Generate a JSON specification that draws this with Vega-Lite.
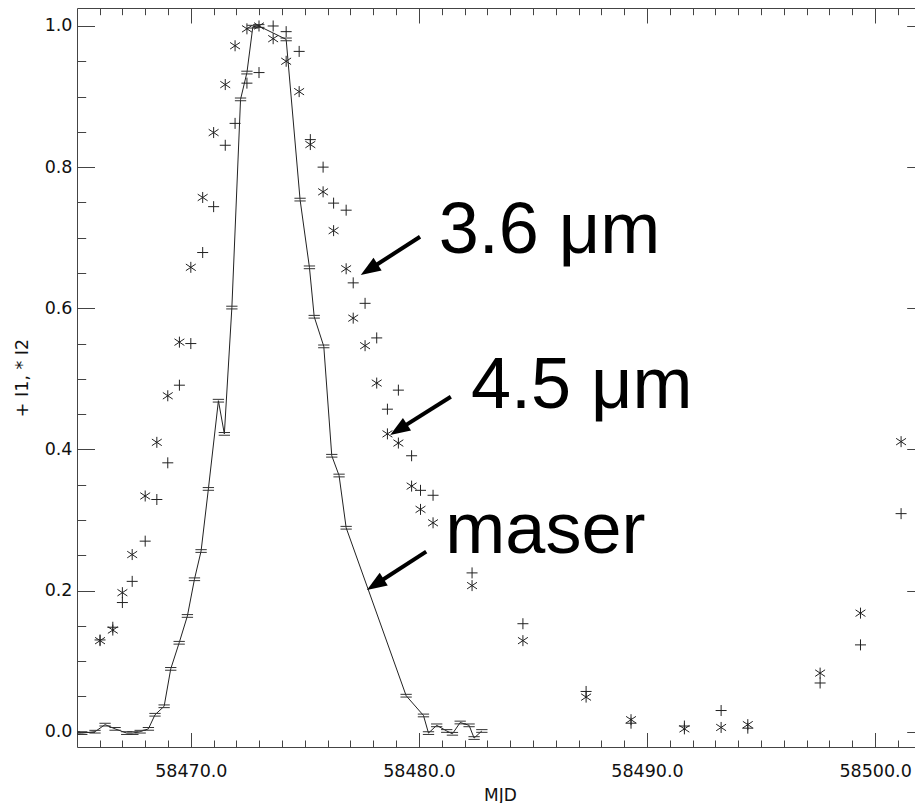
{
  "$schema": "https://vega.github.io/schema/vega-lite/v6.json",
  "width": 838,
  "height": 739,
  "autosize": {"type": "none"},
  "padding": {"left": 77, "top": 8, "right": 0, "bottom": 56},
  "background": "white",
  "config": {"view": {"stroke": null}, "font": "DejaVu Sans"},
  "datasets": {
    "irac": [
      {"mjd": 58466.02, "i1": 0.130, "i2": 0.129},
      {"mjd": 58466.58, "i1": 0.148, "i2": 0.144},
      {"mjd": 58467.00, "i1": 0.183, "i2": 0.197},
      {"mjd": 58467.43, "i1": 0.213, "i2": 0.251},
      {"mjd": 58468.00, "i1": 0.270, "i2": 0.334},
      {"mjd": 58468.51, "i1": 0.329, "i2": 0.410},
      {"mjd": 58468.99, "i1": 0.381, "i2": 0.476},
      {"mjd": 58469.50, "i1": 0.491, "i2": 0.552},
      {"mjd": 58470.00, "i1": 0.550, "i2": 0.658},
      {"mjd": 58470.52, "i1": 0.679, "i2": 0.757},
      {"mjd": 58471.00, "i1": 0.744, "i2": 0.849},
      {"mjd": 58471.51, "i1": 0.831, "i2": 0.917},
      {"mjd": 58471.94, "i1": 0.862, "i2": 0.972},
      {"mjd": 58472.46, "i1": 0.919, "i2": 0.996},
      {"mjd": 58472.99, "i1": 0.934, "i2": 1.000},
      {"mjd": 58473.61, "i1": 1.000, "i2": 0.982},
      {"mjd": 58474.18, "i1": 0.992, "i2": 0.950},
      {"mjd": 58474.75, "i1": 0.964, "i2": 0.907},
      {"mjd": 58475.24, "i1": 0.839, "i2": 0.832},
      {"mjd": 58475.80, "i1": 0.800, "i2": 0.765},
      {"mjd": 58476.26, "i1": 0.749, "i2": 0.710},
      {"mjd": 58476.81, "i1": 0.739, "i2": 0.656},
      {"mjd": 58477.12, "i1": 0.636, "i2": 0.586},
      {"mjd": 58477.64, "i1": 0.607, "i2": 0.547},
      {"mjd": 58478.15, "i1": 0.558, "i2": 0.494},
      {"mjd": 58478.62, "i1": 0.457, "i2": 0.422},
      {"mjd": 58479.10, "i1": 0.484, "i2": 0.409},
      {"mjd": 58479.68, "i1": 0.391, "i2": 0.348},
      {"mjd": 58480.07, "i1": 0.342, "i2": 0.315},
      {"mjd": 58480.62, "i1": 0.335, "i2": 0.296},
      {"mjd": 58482.33, "i1": 0.225, "i2": 0.207},
      {"mjd": 58484.56, "i1": 0.153, "i2": 0.129},
      {"mjd": 58487.33, "i1": 0.057, "i2": 0.049},
      {"mjd": 58489.30, "i1": 0.012, "i2": 0.017},
      {"mjd": 58491.64, "i1": 0.008, "i2": 0.004},
      {"mjd": 58493.25, "i1": 0.030, "i2": 0.006},
      {"mjd": 58494.42, "i1": 0.005, "i2": 0.010},
      {"mjd": 58497.59, "i1": 0.069, "i2": 0.083},
      {"mjd": 58499.36, "i1": 0.123, "i2": 0.168},
      {"mjd": 58501.14, "i1": 0.309, "i2": 0.411}
    ],
    "maser": [
      {"mjd": 58464.90, "flux": -0.002},
      {"mjd": 58465.22, "flux": -0.002},
      {"mjd": 58465.80, "flux": 0.000},
      {"mjd": 58466.24, "flux": 0.010},
      {"mjd": 58466.68, "flux": 0.004},
      {"mjd": 58467.19, "flux": -0.002},
      {"mjd": 58467.46, "flux": -0.002},
      {"mjd": 58467.78, "flux": 0.000},
      {"mjd": 58468.14, "flux": 0.004},
      {"mjd": 58468.43, "flux": 0.024},
      {"mjd": 58468.83, "flux": 0.036},
      {"mjd": 58469.12, "flux": 0.089},
      {"mjd": 58469.49, "flux": 0.126},
      {"mjd": 58469.85, "flux": 0.164},
      {"mjd": 58470.16, "flux": 0.216},
      {"mjd": 58470.45, "flux": 0.256},
      {"mjd": 58470.77, "flux": 0.344},
      {"mjd": 58471.21, "flux": 0.469},
      {"mjd": 58471.47, "flux": 0.422},
      {"mjd": 58471.80, "flux": 0.601},
      {"mjd": 58472.18, "flux": 0.896},
      {"mjd": 58472.46, "flux": 0.934},
      {"mjd": 58472.72, "flux": 0.999},
      {"mjd": 58472.98, "flux": 1.000},
      {"mjd": 58474.18, "flux": 0.981},
      {"mjd": 58474.79, "flux": 0.754},
      {"mjd": 58475.20, "flux": 0.658},
      {"mjd": 58475.41, "flux": 0.588},
      {"mjd": 58475.83, "flux": 0.546},
      {"mjd": 58476.18, "flux": 0.391},
      {"mjd": 58476.50, "flux": 0.363},
      {"mjd": 58476.81, "flux": 0.289},
      {"mjd": 58479.44, "flux": 0.051},
      {"mjd": 58480.20, "flux": 0.023},
      {"mjd": 58480.42, "flux": -0.002},
      {"mjd": 58480.78, "flux": 0.009},
      {"mjd": 58481.22, "flux": 0.001},
      {"mjd": 58481.47, "flux": -0.003},
      {"mjd": 58481.81, "flux": 0.013},
      {"mjd": 58482.20, "flux": 0.009},
      {"mjd": 58482.42, "flux": -0.009},
      {"mjd": 58482.76, "flux": 0.001}
    ],
    "arrows": [
      {"label": "3.6 μm", "mjd": 58480.05, "val": 0.7014, "mjd_end": 58477.82, "val_end": 0.6549, "mjd_tip": 58477.45, "val_tip": 0.6472},
      {"label": "4.5 μm", "mjd": 58481.40, "val": 0.4747, "mjd_end": 58479.11, "val_end": 0.4281, "mjd_tip": 58478.74, "val_tip": 0.4204},
      {"label": "maser", "mjd": 58480.32, "val": 0.2551, "mjd_end": 58478.09, "val_end": 0.2085, "mjd_tip": 58477.72, "val_tip": 0.2008}
    ],
    "notes": [
      {"text": "3.6 μm", "mjd": 58480.87, "val": 0.678},
      {"text": "4.5 μm", "mjd": 58482.28, "val": 0.4583},
      {"text": "maser", "mjd": 58481.16, "val": 0.2528}
    ]
  },
  "resolve": {"axis": {"x": "independent", "y": "independent"}},
  "layer": [
    {
      "data": {"name": "maser"},
      "mark": {"type": "line", "color": "#222", "strokeWidth": 1, "clip": true},
      "encoding": {
        "x": {
          "field": "mjd", "type": "quantitative",
          "scale": {"domain": [58465.01, 58501.75], "nice": false, "zero": false},
          "axis": {
            "orient": "bottom", "values": [58470, 58480, 58490, 58500], "format": ".1f",
            "ticks": false, "domain": true, "domainColor": "#444", "domainWidth": 1, "grid": false,
            "labelFont": "DejaVu Sans", "labelFontSize": 17.5, "labelColor": "#111", "labelPadding": 15,
            "labelFlush": false, "labelOverlap": false,
            "title": "MJD", "titleFont": "DejaVu Sans", "titleFontSize": 17, "titleFontWeight": "normal",
            "titleColor": "#111", "titleX": 423, "titleY": 53, "titleBaseline": "alphabetic", "titleAlign": "center"
          }
        },
        "y": {
          "field": "flux", "type": "quantitative",
          "scale": {"domain": [-0.0217, 1.0255], "nice": false, "zero": false},
          "axis": {
            "orient": "left", "values": [0, 0.2, 0.4, 0.6, 0.8, 1.0], "format": ".1f",
            "ticks": false, "domain": true, "domainColor": "#444", "domainWidth": 1, "grid": false,
            "labelFont": "DejaVu Sans", "labelFontSize": 17.5, "labelColor": "#111", "labelPadding": 5,
            "labelFlush": false, "labelOverlap": false,
            "title": "+ I1, * I2", "titleFont": "DejaVu Sans", "titleFontSize": 17.5, "titleFontWeight": "normal",
            "titleColor": "#111", "titleAngle": -90, "titleX": -50, "titleY": 369.5,
            "titleBaseline": "alphabetic", "titleAlign": "center"
          }
        }
      }
    },
    {
      "data": {"name": "maser"},
      "mark": {"type": "point", "shape": "M-1,-0.24L1,-0.24M-1,0.24L1,0.24", "size": 128, "filled": false, "color": "#333", "strokeWidth": 1, "opacity": 1, "clip": true},
      "encoding": {
        "x": {
          "field": "mjd", "type": "quantitative",
          "scale": {"domain": [58465.01, 58501.75], "nice": false, "zero": false},
          "axis": {"orient": "bottom", "values": [58470, 58480, 58490, 58500], "offset": -14.5, "tickSize": 14.5, "tickColor": "#444", "tickWidth": 1, "labels": false, "domain": false, "grid": false, "title": null}
        },
        "y": {
          "field": "flux", "type": "quantitative",
          "scale": {"domain": [-0.0217, 1.0255], "nice": false, "zero": false},
          "axis": {"orient": "left", "values": [0, 0.2, 0.4, 0.6, 0.8, 1.0], "offset": -17.5, "tickSize": 17.5, "tickColor": "#444", "tickWidth": 1, "labels": false, "domain": false, "grid": false, "title": null}
        }
      }
    },
    {
      "data": {"name": "irac"},
      "mark": {"type": "point", "shape": "M0,-1L0,1M-0.9,-0.6L0.9,0.6M-0.9,0.6L0.9,-0.6", "size": 121, "filled": false, "color": "#222", "strokeWidth": 1, "opacity": 1},
      "encoding": {
        "x": {
          "field": "mjd", "type": "quantitative",
          "scale": {"domain": [58465.01, 58501.75], "nice": false, "zero": false},
          "axis": {"orient": "bottom", "values": [58466, 58467, 58468, 58469, 58470, 58471, 58472, 58473, 58474, 58475, 58476, 58477, 58478, 58479, 58480, 58481, 58482, 58483, 58484, 58485, 58486, 58487, 58488, 58489, 58490, 58491, 58492, 58493, 58494, 58495, 58496, 58497, 58498, 58499, 58500, 58501], "offset": -7, "tickSize": 7, "tickColor": "#444", "tickWidth": 1, "labels": false, "domain": false, "grid": false, "title": null}
        },
        "y": {
          "field": "i2", "type": "quantitative",
          "scale": {"domain": [-0.0217, 1.0255], "nice": false, "zero": false},
          "axis": {"orient": "left", "values": [0, 0.05, 0.1, 0.15, 0.2, 0.25, 0.3, 0.35, 0.4, 0.45, 0.5, 0.55, 0.6, 0.65, 0.7, 0.75, 0.8, 0.85, 0.9, 0.95, 1.0], "offset": -8.7, "tickSize": 8.7, "tickColor": "#444", "tickWidth": 1, "labels": false, "domain": false, "grid": false, "title": null}
        }
      }
    },
    {
      "data": {"name": "irac"},
      "mark": {"type": "point", "shape": "M-1,0L1,0M0,-1L0,1", "size": 121, "filled": false, "color": "#222", "strokeWidth": 1, "opacity": 1},
      "encoding": {
        "x": {
          "field": "mjd", "type": "quantitative",
          "scale": {"domain": [58465.01, 58501.75], "nice": false, "zero": false},
          "axis": {"orient": "top", "values": [58470, 58480, 58490, 58500], "offset": -15, "tickSize": 15, "tickColor": "#444", "tickWidth": 1, "labels": false, "domain": false, "grid": false, "title": null}
        },
        "y": {
          "field": "i1", "type": "quantitative",
          "scale": {"domain": [-0.0217, 1.0255], "nice": false, "zero": false},
          "axis": {"orient": "right", "values": [0, 0.2, 0.4, 0.6, 0.8, 1.0], "offset": -8.3, "tickSize": 8.3, "tickColor": "#444", "tickWidth": 1, "labels": false, "domain": false, "grid": false, "title": null}
        }
      }
    },
    {
      "data": {"name": "arrows"},
      "mark": {"type": "rule", "color": "black", "strokeWidth": 4, "strokeCap": "butt"},
      "encoding": {
        "x": {
          "field": "mjd", "type": "quantitative",
          "scale": {"domain": [58465.01, 58501.75], "nice": false, "zero": false},
          "axis": {"orient": "top", "values": [58466, 58467, 58468, 58469, 58470, 58471, 58472, 58473, 58474, 58475, 58476, 58477, 58478, 58479, 58480, 58481, 58482, 58483, 58484, 58485, 58486, 58487, 58488, 58489, 58490, 58491, 58492, 58493, 58494, 58495, 58496, 58497, 58498, 58499, 58500, 58501], "offset": -6.7, "tickSize": 6.7, "tickColor": "#444", "tickWidth": 1, "labels": false, "domain": false, "grid": false, "title": null}
        },
        "x2": {"field": "mjd_end"},
        "y": {
          "field": "val", "type": "quantitative",
          "scale": {"domain": [-0.0217, 1.0255], "nice": false, "zero": false},
          "axis": null
        },
        "y2": {"field": "val_end"}
      }
    },
    {
      "data": {"name": "arrows"},
      "mark": {"type": "point", "shape": "M0,0L-0.75,2L0.75,2Z", "size": 400, "filled": true, "color": "black", "opacity": 1, "angle": 237.3, "strokeWidth": 0},
      "encoding": {
        "x": {
          "field": "mjd_tip", "type": "quantitative",
          "scale": {"domain": [58465.01, 58501.75], "nice": false, "zero": false},
          "axis": {"orient": "top", "ticks": false, "labels": false, "domain": true, "domainColor": "#444", "domainWidth": 1, "grid": false, "title": null}
        },
        "y": {
          "field": "val_tip", "type": "quantitative",
          "scale": {"domain": [-0.0217, 1.0255], "nice": false, "zero": false},
          "axis": null
        }
      }
    },
    {
      "data": {"name": "notes"},
      "mark": {"type": "text", "font": "Liberation Sans", "fontSize": 72, "align": "left", "baseline": "alphabetic", "color": "black"},
      "encoding": {
        "x": {
          "field": "mjd", "type": "quantitative",
          "scale": {"domain": [58465.01, 58501.75], "nice": false, "zero": false},
          "axis": null
        },
        "y": {
          "field": "val", "type": "quantitative",
          "scale": {"domain": [-0.0217, 1.0255], "nice": false, "zero": false},
          "axis": null
        },
        "text": {"field": "text"}
      }
    }
  ]
}
